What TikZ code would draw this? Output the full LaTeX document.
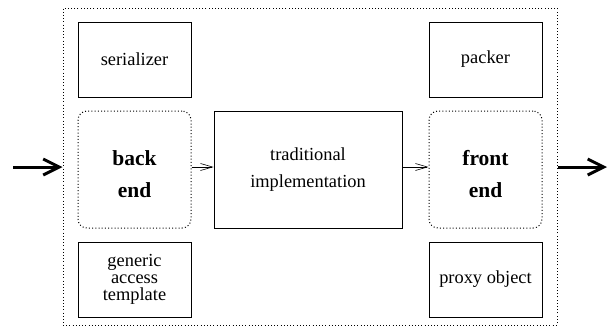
\documentclass[tikz,border=0pt]{standalone}
\usepackage{fontspec}
\setmainfont{Liberation Serif}
\usetikzlibrary{arrows.meta}
\begin{document}
\begin{tikzpicture}[x=1pt,y=-1pt,
  dots/.style={line width=1pt,dash pattern=on 1pt off 2.2pt},
  box/.style={draw,line width=0.8pt,minimum width=113pt,minimum height=75pt,inner sep=0pt,align=center,font=\fontsize{18.4}{22}\selectfont},
  dotbox/.style={draw,dots,rounded corners=9pt,minimum width=113pt,minimum height=117pt,inner sep=0pt,align=center,font=\fontsize{21.5}{32}\selectfont\bfseries},
  thin arrow/.style={line width=0.6pt,-{Straight Barb[length=12pt,width=7pt,line width=0.6pt]}},
  thick arrow/.style={line width=3pt,-{Straight Barb[length=16pt,width=16pt,line width=3pt]}}
]
\useasboundingbox (0,0) rectangle (611,327);
\node[draw,dots,minimum width=494pt,minimum height=317pt,inner sep=0pt] (outer) at (310,166.5) {};
\node[box] (ser) at (134.5,59.5) {serializer};
\node[dotbox] (back) at (134.5,169.5) {\rule{0pt}{24pt}back\\end};
\node[box,font=\fontsize{18.4}{17}\selectfont] (gen) at (134.5,279.5) {generic\\access\\template};
\node[box,minimum width=188pt,minimum height=117pt,font=\fontsize{18.4}{27}\selectfont] (trad) at (308,169.5) {traditional\\implementation};
\node[box] (pack) at (485.5,59.5) {packer};
\node[dotbox] (front) at (485.5,169.5) {\rule{0pt}{24pt}front\\end};
\node[box] (proxy) at (485.5,279.5) {proxy object};
\coordinate (inL) at (13,167);
\coordinate (outR) at (607,167);
\draw[thin arrow] (back.east |- 0,167) -- (trad.west |- 0,167);
\draw[thin arrow] (trad.east |- 0,167) -- (front.west |- 0,167);
\draw[thick arrow] (inL) -- (outer.west |- inL);
\draw[thick arrow] (outer.east |- outR) -- (outR);
\end{tikzpicture}
\end{document}
